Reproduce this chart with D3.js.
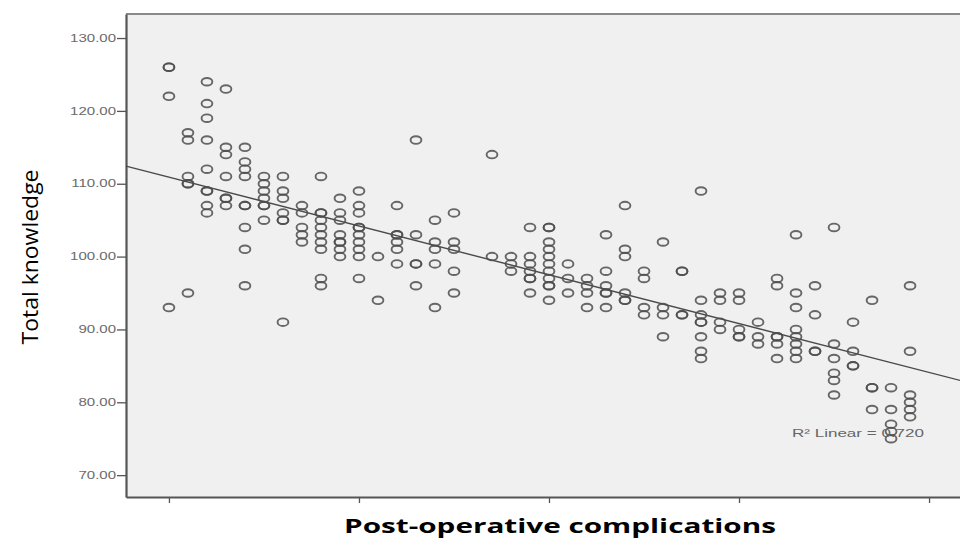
<!DOCTYPE html>
<html>
<head>
<meta charset="utf-8">
<script src="https://cdn.jsdelivr.net/npm/d3@7"></script>
<style>
  body { margin: 0; background: #fff; }
  svg { display: block; }
</style>
</head>
<body>
<div id="chart"></div>
<script>
// x levels (post-operative complications) and the knowledge scores seen in each column
const xLevels = [10, 11, 12, 13, 14, 15, 16, 17, 18, 19, 20, 21, 22, 23, 24, 25,
  27, 28, 29, 30, 31, 32, 33, 34, 35, 36, 37, 38, 39, 40, 41, 42, 43, 44, 45, 46, 47, 48, 49];
const knowledgeByLevel = [
  [126, 126, 122, 93],
  [117, 116, 111, 110, 110, 95],
  [124, 121, 119, 116, 112, 109, 109, 107, 106],
  [123, 115, 114, 111, 108, 108, 107],
  [115, 113, 112, 111, 107, 107, 104, 101, 96],
  [111, 110, 109, 108, 107, 107, 105],
  [111, 109, 108, 106, 105, 105, 91],
  [107, 106, 104, 103, 102],
  [111, 106, 106, 105, 104, 103, 102, 101, 97, 96],
  [108, 106, 105, 103, 102, 102, 101, 100],
  [109, 107, 106, 104, 104, 103, 102, 101, 100, 97],
  [100, 94],
  [107, 103, 103, 102, 101, 99],
  [116, 103, 99, 99, 96],
  [105, 102, 101, 99, 93],
  [106, 102, 101, 98, 95],
  [114, 100],
  [100, 99, 98],
  [104, 100, 99, 98, 97, 97, 95],
  [104, 104, 102, 101, 100, 99, 98, 97, 96, 96, 94],
  [99, 97, 95],
  [97, 96, 95, 93],
  [103, 98, 96, 95, 95, 93],
  [107, 101, 100, 95, 94, 94],
  [98, 97, 93, 92],
  [102, 93, 92, 89],
  [98, 98, 92, 92],
  [109, 94, 92, 91, 91, 89, 87, 86],
  [95, 94, 91, 90],
  [95, 94, 90, 89, 89],
  [91, 89, 88],
  [97, 96, 89, 89, 88, 86],
  [103, 95, 93, 90, 89, 88, 87, 86],
  [96, 92, 87, 87],
  [104, 88, 86, 84, 83, 81],
  [91, 87, 85, 85],
  [94, 82, 82, 79],
  [82, 79, 77, 76, 75],
  [96, 87, 81, 80, 79, 78]
];
const yTicks = [70, 80, 90, 100, 110, 120, 130];
const xTicks = [10, 20, 30, 40, 50];
// fit line as printed on the chart (knowledge = a + b * complications)
const fitIntercept = 117.6;
const fitSlope = -0.67;
const rLabel = "R\u00B2 Linear = 0.720";

const points = [];
xLevels.forEach((lv, i) => knowledgeByLevel[i].forEach(k => points.push({ x: lv, y: k })));

const width = 960, height = 539;
const plot = { left: 126, top: 14, right: 968, bottom: 497 };

const svg = d3.select("#chart").append("svg")
  .attr("width", width)
  .attr("height", height);

const x = d3.scaleLinear().domain([7.74, 52.05]).range([plot.left, plot.right]);
const y = d3.scaleLinear().domain([67, 133.3]).range([plot.bottom, plot.top]);

// plot background + top frame
svg.append("rect")
  .attr("x", plot.left).attr("y", plot.top)
  .attr("width", plot.right - plot.left).attr("height", plot.bottom - plot.top)
  .attr("fill", "#f0f0f0");
svg.append("line")
  .attr("x1", plot.left).attr("x2", plot.right)
  .attr("y1", plot.top).attr("y2", plot.top)
  .attr("stroke", "#8a8a8a").attr("stroke-width", 2);

// the picture is stretched sideways, so text gets widened too
function widen(sel, f) {
  sel.each(function () {
    const w = this.getComputedTextLength();
    d3.select(this).attr("textLength", w * f).attr("lengthAdjust", "spacingAndGlyphs");
  });
}

// y axis
const gy = svg.append("g")
  .attr("transform", `translate(${plot.left},0)`)
  .call(d3.axisLeft(y).tickValues(yTicks).tickFormat(d3.format(".2f")).tickSize(9).tickPadding(1).tickSizeOuter(0));
gy.select(".domain").attr("stroke", "#555").attr("stroke-width", 2.2);
gy.selectAll(".tick line").attr("stroke", "#555").attr("stroke-width", 1.3);
gy.selectAll(".tick text")
  .attr("fill", "#6a6a6a")
  .attr("font-family", "Liberation Sans, Arial, sans-serif")
  .attr("font-size", 10)
  .call(widen, 1.5);

// x axis, ticks only
const gx = svg.append("g")
  .attr("transform", `translate(0,${plot.bottom})`)
  .call(d3.axisBottom(x).tickValues(xTicks).tickFormat("").tickSize(6).tickSizeOuter(0));
gx.select(".domain").attr("stroke", "#555").attr("stroke-width", 2.2);
gx.selectAll(".tick line").attr("stroke", "#555").attr("stroke-width", 1.3);

// fit line across the plot
const [x0, x1] = x.domain();
svg.append("line")
  .attr("x1", x(x0)).attr("y1", y(fitIntercept + fitSlope * x0))
  .attr("x2", x(x1)).attr("y2", y(fitIntercept + fitSlope * x1))
  .attr("stroke", "#4a4a4a").attr("stroke-width", 1.4);

// points
svg.append("g")
  .selectAll("ellipse")
  .data(points)
  .join("ellipse")
  .attr("cx", d => x(d.x))
  .attr("cy", d => y(d.y))
  .attr("rx", 5.4)
  .attr("ry", 3.8)
  .attr("fill", "none")
  .attr("stroke", "#4d4d4d")
  .attr("stroke-opacity", 0.85)
  .attr("stroke-width", 1.9);

// R squared note
svg.append("text")
  .attr("x", 792).attr("y", 437)
  .attr("fill", "#666")
  .attr("font-family", "Liberation Sans, Arial, sans-serif")
  .attr("font-size", 10.5)
  .attr("textLength", 132).attr("lengthAdjust", "spacingAndGlyphs")
  .text(rLabel);

// axis titles
svg.append("text")
  .attr("transform", "translate(38,257) rotate(-90)")
  .attr("text-anchor", "middle")
  .attr("fill", "#000")
  .attr("font-family", "Open Sans, sans-serif")
  .attr("font-size", 21)
  .attr("textLength", 175).attr("lengthAdjust", "spacingAndGlyphs")
  .text("Total knowledge");

svg.append("text")
  .attr("x", 560).attr("y", 533)
  .attr("text-anchor", "middle")
  .attr("fill", "#000")
  .attr("font-family", "Open Sans, sans-serif")
  .attr("font-weight", "bold")
  .attr("font-size", 19)
  .attr("textLength", 432).attr("lengthAdjust", "spacingAndGlyphs")
  .text("Post-operative complications");
</script>
</body>
</html>
